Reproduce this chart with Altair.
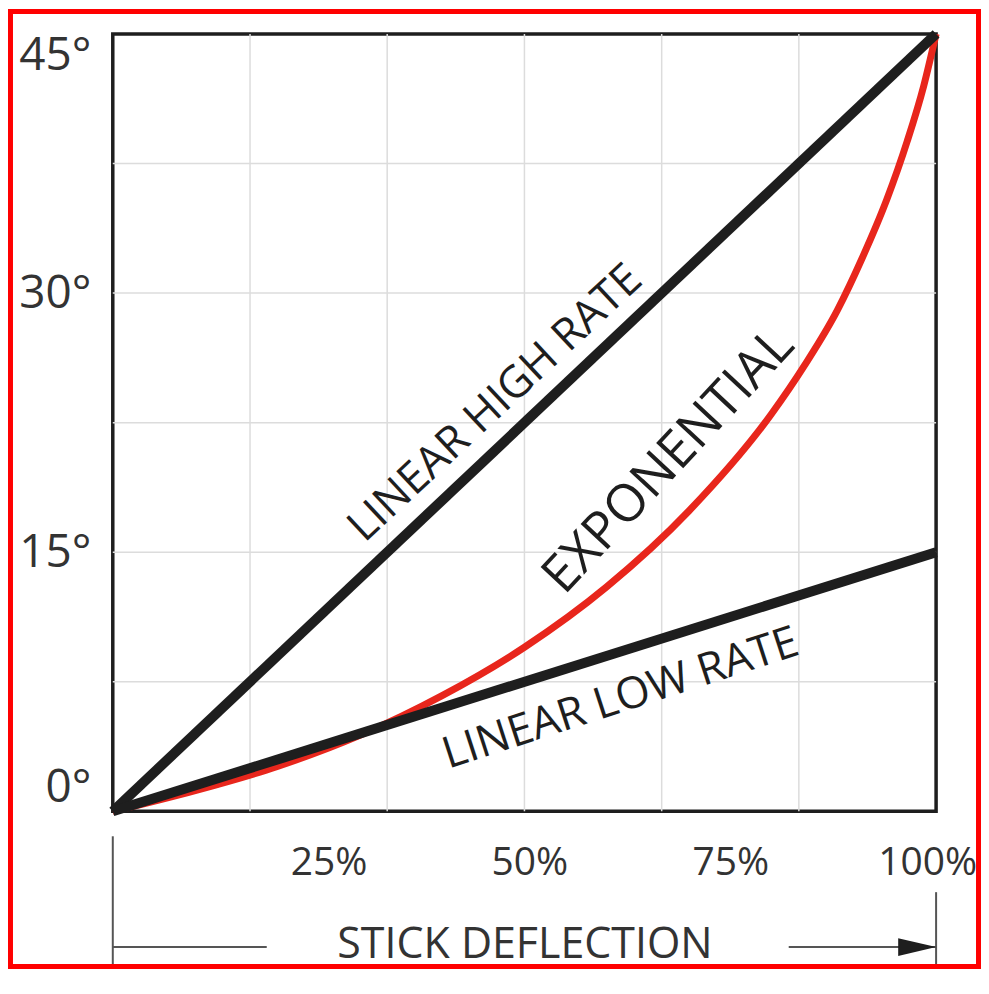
import altair as alt
import pandas as pd

# ---------------- data ----------------
deflection = [0, 100]                  # stick deflection, %
high_rate = [0, 45]                    # degrees
low_rate = [0, 15]                     # degrees
expo_x = [0, 10, 20, 30, 40, 50, 60, 70, 80, 84, 88, 91, 94, 96.5, 98.5, 100]
expo_y = [0, 1.2, 2.6, 4.4, 6.7, 9.5, 13.0, 17.4, 23.0, 25.8, 29.0, 32.0, 35.4, 38.8, 42.0, 45]
grid_x = [16.67, 33.33, 50, 66.67, 83.33]
grid_y = [7.5, 15, 22.5, 30, 37.5]
tick_x = [25, 50, 75, 100]
tick_y = [0, 15, 30, 45]
label_text = ["LINEAR HIGH RATE", "EXPONENTIAL", "LINEAR LOW RATE"]
label_x = [46.5, 67.5, 61.7]
label_y = [23.6, 20.3, 6.5]
arrow_left = [0, 18.7]
arrow_right = [82.1, 100]
arrow_tip = [97.7]
bracket_x = [0, 100]

FONT = "Open Sans"
BLACK = "#1e1e1e"
RED = "#e8261c"
TEXT = "#333333"
W, H = 825, 779

lines_df = pd.DataFrame({
    "x": deflection + deflection,
    "y": high_rate + low_rate,
    "s": ["high"] * 2 + ["low"] * 2,
})
expo_df = pd.DataFrame({"x": expo_x, "y": expo_y})
gx_df = pd.DataFrame({"x": grid_x})
gy_df = pd.DataFrame({"y": grid_y})
lab_df = pd.DataFrame({"t": label_text, "x": label_x, "y": label_y})

xscale = alt.Scale(domain=[0, 100], nice=False, zero=False)
yscale = alt.Scale(domain=[0, 45], nice=False, zero=False)

xaxis = alt.Axis(
    values=tick_x, labelExpr="datum.value + '%'", grid=False, ticks=False, domain=False,
    labelFont=FONT, labelFontSize=39, labelColor=TEXT, labelPadding=32,
    labelBaseline="top", labelFlush=False, labelOverlap=False,
    labelOffset={"condition": [{"test": "datum.value == 25", "value": 10},
                               {"test": "datum.value == 50", "value": 5},
                               {"test": "datum.value == 100", "value": -9}],
                 "value": 0},
    title="STICK DEFLECTION", titleFont=FONT, titleFontSize=43, titleFontWeight="normal",
    titleColor=TEXT, titleY=133, titleBaseline="middle",
)
yaxis = alt.Axis(
    values=tick_y, labelExpr="datum.value + '°'", grid=False, ticks=False, domain=False,
    labelFont=FONT, labelFontSize=46, labelColor=TEXT, labelPadding=22,
    labelFlush=True, labelOverlap=False, title=None,
)

X = alt.X("x:Q", scale=xscale, axis=xaxis)
Y = alt.Y("y:Q", scale=yscale, axis=yaxis)

grid_v = alt.Chart(gx_df).mark_rule(color="#dcdcdc", strokeWidth=1.5).encode(x=X)
grid_h = alt.Chart(gy_df).mark_rule(color="#dcdcdc", strokeWidth=1.5).encode(y=Y)

expo = alt.Chart(expo_df).mark_line(
    color=RED, strokeWidth=7, interpolate="monotone", clip=False
).encode(x=X, y=Y)

linear = alt.Chart(lines_df).mark_line(
    color=BLACK, strokeWidth=10, clip=False
).encode(x=X, y=Y, detail="s:N")

angles = [317, 313, 342]
sizes = [44, 52, 44]
texts = []
for i in range(3):
    texts.append(
        alt.Chart(lab_df).transform_filter(alt.datum.t == label_text[i]).mark_text(
            font=FONT, fontSize=sizes[i], color=BLACK, angle=angles[i],
            align="center", baseline="middle",
        ).encode(x=X, y=Y, text="t:N")
    )

# bracket / arrow under the x axis
GREY = "#555555"
PAD_L, PAD_T, PAD_R, PAD_B = 105, 25, 45, 158
right_edge = W + PAD_R
bottom_edge = H + PAD_B
br_left = alt.Chart(pd.DataFrame({"x": [bracket_x[0]]})).mark_rule(
    color=GREY, strokeWidth=2).encode(x=X, y=alt.value(804), y2=alt.value(bottom_edge))
br_right = alt.Chart(pd.DataFrame({"x": [bracket_x[1]]})).mark_rule(
    color=GREY, strokeWidth=2).encode(x=X, y=alt.value(860), y2=alt.value(bottom_edge))
ar_l = alt.Chart(pd.DataFrame({"x": [arrow_left[0]], "x2": [arrow_left[1]]})).mark_rule(
    color=GREY, strokeWidth=2).encode(x=X, x2="x2:Q", y=alt.value(915))
ar_r = alt.Chart(pd.DataFrame({"x": [arrow_right[0]], "x2": [arrow_right[1]]})).mark_rule(
    color=GREY, strokeWidth=2).encode(x=X, x2="x2:Q", y=alt.value(915))
ar_head = alt.Chart(pd.DataFrame({"x": arrow_tip})).mark_point(
    shape="M -1 -0.47 L 1 0 L -1 0.47 Z", size=1444, filled=True, color=BLACK, opacity=1
).encode(x=X, y=alt.value(915))

# red frame round the picture
frame = [
    alt.Chart(pd.DataFrame({"k": [0]})).mark_rule(color="#ff0000", strokeWidth=5).encode(
        x=alt.value(-PAD_L + 2.5), y=alt.value(-PAD_T), y2=alt.value(bottom_edge)),
    alt.Chart(pd.DataFrame({"k": [0]})).mark_rule(color="#ff0000", strokeWidth=5).encode(
        x=alt.value(-PAD_L), x2=alt.value(right_edge), y=alt.value(-PAD_T + 2.5)),
    alt.Chart(pd.DataFrame({"k": [0]})).mark_rule(color="#ff0000", strokeWidth=5).encode(
        x=alt.value(right_edge - 2.5), y=alt.value(-PAD_T), y2=alt.value(bottom_edge)),
    alt.Chart(pd.DataFrame({"k": [0]})).mark_rule(color="#ff0000", strokeWidth=5).encode(
        x=alt.value(-PAD_L), x2=alt.value(right_edge), y=alt.value(bottom_edge - 2.5)),
]

chart = alt.layer(
    grid_v, grid_h, expo, linear, *texts, br_left, br_right, ar_l, ar_r, ar_head, *frame
).properties(
    width=W, height=H,
    autosize=alt.AutoSizeParams(type="none"),
    padding={"left": PAD_L, "top": PAD_T, "right": PAD_R, "bottom": PAD_B},
).configure(
    background="white"
).configure_view(
    stroke=BLACK, strokeWidth=3.5
)

chart.save("out.html", embed_options={"renderer": "svg", "actions": False})
